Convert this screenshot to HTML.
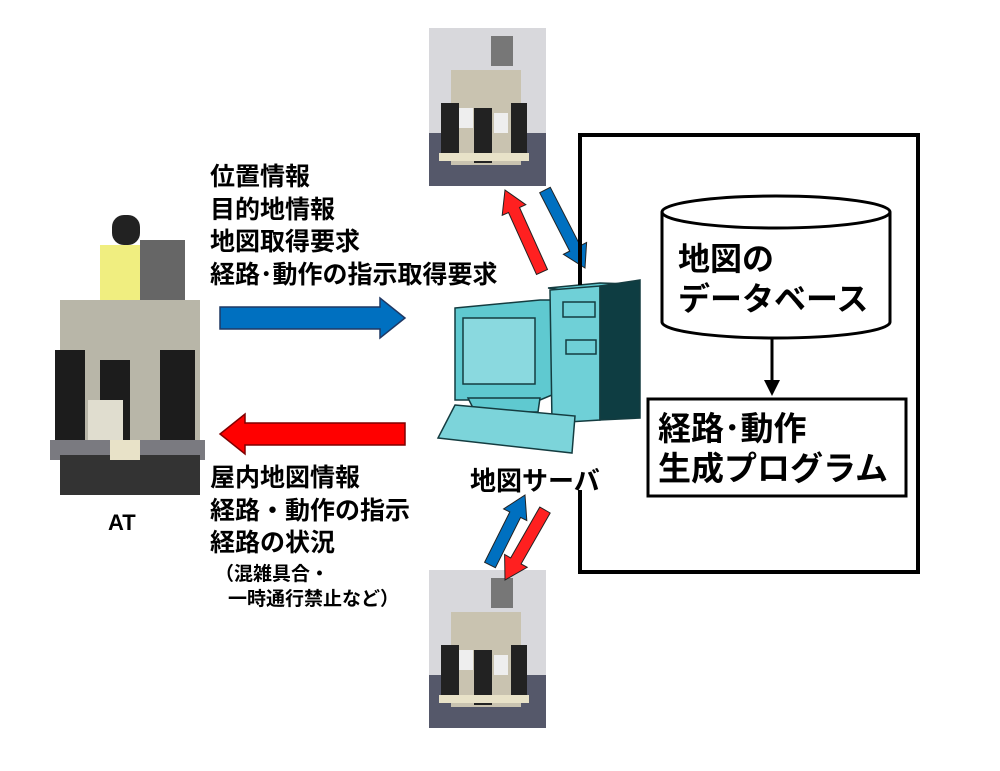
<!DOCTYPE html>
<html><head><meta charset="utf-8"><style>
body{margin:0;background:#fff;}
svg text{font-family:"Liberation Sans","Noto Sans CJK JP",sans-serif;font-weight:bold;fill:#000;}
</style></head><body>
<svg width="1000" height="766" viewBox="0 0 1000 766" xmlns="http://www.w3.org/2000/svg">
<defs>
<g id="robot">
<rect x="0" y="0" width="117" height="158" fill="#d8d8dc"/>
<rect x="0" y="105" width="117" height="53" fill="#55586a"/>
<rect x="22" y="42" width="70" height="95" fill="#c9c3b0"/>
<rect x="12" y="75" width="18" height="55" fill="#222"/>
<rect x="45" y="80" width="18" height="55" fill="#222"/>
<rect x="82" y="75" width="16" height="55" fill="#222"/>
<rect x="62" y="8" width="22" height="30" fill="#777"/>
<rect x="10" y="125" width="90" height="8" fill="#e8e2c8"/>
<rect x="30" y="80" width="14" height="20" fill="#eee"/>
<rect x="65" y="85" width="14" height="20" fill="#eee"/>
</g>
</defs>
<use href="#robot" x="429" y="28"/>
<use href="#robot" x="429" y="570"/>
<g>
<rect x="112" y="215" width="28" height="30" rx="12" fill="#222"/>
<rect x="100" y="245" width="55" height="65" fill="#f0ee80"/>
<rect x="140" y="240" width="45" height="60" fill="#666"/>
<rect x="60" y="300" width="140" height="150" fill="#b8b6a8"/>
<rect x="55" y="350" width="30" height="95" fill="#1c1c1c"/>
<rect x="100" y="360" width="30" height="100" fill="#1c1c1c"/>
<rect x="160" y="350" width="35" height="95" fill="#1c1c1c"/>
<rect x="88" y="400" width="35" height="40" fill="#e0ddcf"/>
<rect x="50" y="440" width="155" height="20" fill="#7a7a80"/>
<rect x="60" y="455" width="140" height="40" fill="#333"/>
<rect x="110" y="440" width="30" height="20" fill="#e8e2c8"/>
</g>
<text x="108" y="530" font-size="22">AT</text>
<polygon points="220,307 380,307 380,298 405,318 380,338 380,329 220,329" fill="#0070c0" stroke="#1f3864" stroke-width="1.5"/>
<polygon points="405,423 245,423 245,414 220,434 245,454 245,445 405,445" fill="#ff0000" stroke="#7f0000" stroke-width="1.5"/>
<g stroke="#222" stroke-width="1">
<polygon points="547.5,269.5 519.5,207.5 525.8,204.7 505,190 502.2,215.3 508.5,212.5 536.5,274.5" fill="#ff2020"/>
<polygon points="550.3,187.3 580.3,245.7 586.6,242.5 585,268 563.4,254.3 569.7,251.1 539.7,192.7" fill="#0070c0"/>
<polygon points="495.4,567.7 520.6,517.4 526.8,520.5 525,495 503.6,508.9 509.8,512 484.6,562.3" fill="#0070c0"/>
<polygon points="550.2,513 521.1,563.9 527.2,567.3 505,580 504.6,554.5 510.7,557.9 539.8,507" fill="#ff2020"/>
</g>
<g stroke="#143c40" stroke-width="1.5">
<polygon points="455,308 540,300 552,300 552,395 540,400 455,400" fill="#5fc9d0"/>
<polygon points="552,300 567,292 567,393 552,400" fill="#1f5f66"/>
<rect x="463" y="318" width="72" height="66" fill="#8ad9df"/>
<polygon points="468,398 540,398 538,412 475,412" fill="#5fc9d0"/>
<polygon points="548,288 600,283 632,284 580,292" fill="#5fc9d0"/>
<polygon points="550,290 600,286 600,420 552,423" fill="#6fd0d7"/>
<polygon points="600,286 640,280 640,418 600,420" fill="#0e3d42"/>
<rect x="563" y="302" width="32" height="15" fill="#6fd0d7"/>
<rect x="566" y="340" width="30" height="14" fill="#6fd0d7"/>
<polygon points="455,405 575,416 572,453 438,438" fill="#7cd4da"/>
</g>
<text x="470" y="490" font-size="26">地図サーバ</text>
<polyline points="580,285 580,135 918,135 918,572 580,572 580,490" fill="none" stroke="#000" stroke-width="4"/>
<path d="M662,212 L662,322 A114,16 0 0 0 890,322 L890,212" fill="#fff" stroke="#000" stroke-width="3"/>
<ellipse cx="776" cy="212" rx="114" ry="16" fill="#fff" stroke="#000" stroke-width="3"/>
<text x="678" y="270" font-size="32">地図の</text>
<text x="678" y="310" font-size="32">データベース</text>
<line x1="772" y1="338" x2="772" y2="382" stroke="#000" stroke-width="3"/>
<polygon points="764,380 780,380 772,396" fill="#000"/>
<rect x="648" y="399" width="258" height="97" fill="#fff" stroke="#000" stroke-width="3"/>
<text x="658" y="440" font-size="33">経路･動作</text>
<text x="658" y="480" font-size="33">生成プログラム</text>
<g font-size="25">
<text x="210" y="185">位置情報</text>
<text x="210" y="218">目的地情報</text>
<text x="210" y="250">地図取得要求</text>
<text x="210" y="283">経路･動作の指示取得要求</text>
<text x="210" y="486">屋内地図情報</text>
<text x="210" y="519">経路・動作の指示</text>
<text x="210" y="551">経路の状況</text>
</g>
<text x="215" y="580" font-size="19">（混雑具合・</text>
<text x="228" y="605" font-size="19">一時通行禁止など）</text>
</svg>
</body></html>
